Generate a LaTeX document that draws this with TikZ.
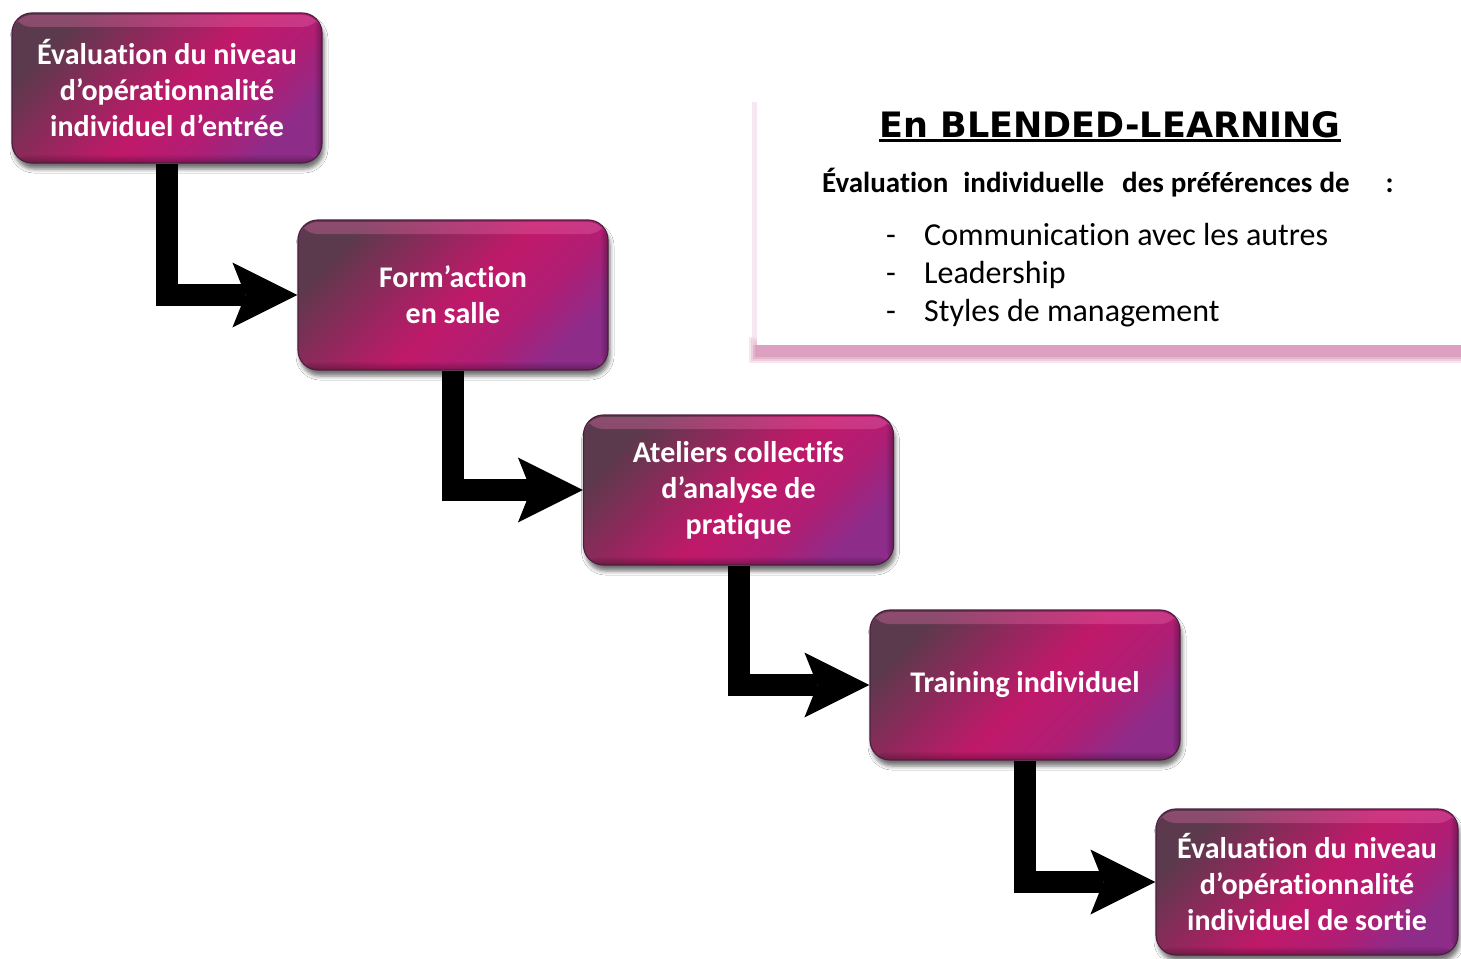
\documentclass[tikz,border=0pt]{standalone}
\usepackage{fontspec}
\setmainfont{Carlito}[Ligatures={NoCommon,NoRequired,NoContextual}]
\newfontfamily\headfont{DejaVu Sans}
\usetikzlibrary{arrows.meta,shadows.blur,fadings}

\definecolor{gA}{HTML}{5A3A4C}
\definecolor{gM}{HTML}{C0196A}
\definecolor{gC}{HTML}{B01E74}
\definecolor{gD}{HTML}{8E2C8A}
\definecolor{rim}{HTML}{4E1E40}
\definecolor{gloss}{HTML}{F070B0}
\definecolor{pinkshadow}{HTML}{DDA0C0}

% diagonal colour run of the step boxes
\pgfdeclarehorizontalshading{boxgrad}{100bp}{color(0bp)=(gA); color(25bp)=(gA); color(38bp)=(gA!50!gM); color(52bp)=(gM); color(64bp)=(gC); color(75bp)=(gD); color(100bp)=(gD)}

\tikzset{
  stepbox/.style={rounded corners=20pt, minimum width=310pt, minimum height=150pt,
    shading=boxgrad, shading angle=-45, draw=rim, line width=1.2pt,
    text=white, font=\bfseries\fontsize{30}{36}\selectfont, align=center, inner sep=0pt,
    blur shadow={shadow xshift=2pt, shadow yshift=-6pt, shadow blur radius=4pt, shadow opacity=55},
    path picture={
      \fill[gloss, opacity=0.35, path fading=south]
        ([yshift=-2pt]path picture bounding box.north west) rectangle ([yshift=-14pt]path picture bounding box.north east);
      \fill[black, opacity=0.3, path fading=north]
        (path picture bounding box.south west) rectangle ([yshift=9pt]path picture bounding box.south east);
      \fill[black, opacity=0.3, path fading=west]
        ([xshift=-8pt]path picture bounding box.north east) rectangle (path picture bounding box.south east);
    }},
  conn/.style={line width=22pt, line join=miter,
    -{Stealth[length=65pt, width=65pt, inset=13pt, line width=0pt]}},
  listtext/.style={anchor=base west, inner sep=0pt, font=\fontsize{32}{36}\selectfont},
}

\begin{document}
\begin{tikzpicture}[x=1pt, y=1pt]
  \useasboundingbox (0,0) rectangle (1461,-958);
  \fill[white] (0,0) rectangle (1461,-958);

  % side panel with its pink drop shadow
  \foreach \d/\o in {6/0.25, 4/0.35, 2/0.5, 0/1}{
    \fill[pinkshadow, opacity=\o] (755-\d,-343+\d) rectangle (1461,-357-\d);
  }
  \fill[pinkshadow!40, opacity=0.6] (752,-102) rectangle (757,-345);
  \node[fill=white, minimum width=705pt, minimum height=245pt, inner sep=0pt] (panel) at (1109,-222.5) {};

  \node[anchor=base, inner sep=0pt, font=\headfont\bfseries\fontsize{35}{40}\selectfont] (title) at (1110,-137) {En BLENDED-LEARNING};
  \draw[line width=2.5pt] ([yshift=-3.5pt]title.base west) -- ([yshift=-3.5pt]title.base east);

  \node[anchor=base west, inner sep=0pt, font=\bfseries\fontsize{29}{36}\selectfont] (sub) at (822,-192)
    {Évaluation\hspace{15pt}individuelle\hspace{18pt}des\hspace{7pt}préférences\hspace{7pt}de\hspace{36pt}:};

  \node[listtext] (d1) at (886,-245) {-};
  \node[listtext] (d2) at (886,-283) {-};
  \node[listtext] (d3) at (886,-321) {-};
  \node[listtext] (i1) at (924,-245) {Communication avec les autres};
  \node[listtext] (i2) at (924,-283) {Leadership};
  \node[listtext] (i3) at (924,-321) {Styles de management};

  % the five steps
  \node[stepbox] (b1) at (167,-88)    {Évaluation du niveau\\d’opérationnalité\\individuel d’entrée};
  \node[stepbox] (b2) at (453,-295)   {Form’action\\en salle};
  \node[stepbox] (b3) at (738.5,-490) {Ateliers collectifs\\d’analyse de\\pratique};
  \node[stepbox] (b4) at (1025,-685)  {Training individuel};
  \node[stepbox, minimum width=302pt, minimum height=146pt] (b5) at (1307,-882) {Évaluation du niveau\\d’opérationnalité\\individuel de sortie};

  % elbow connectors
  \draw[conn] (b1.south) |- (b2.west);
  \draw[conn] (b2.south) |- (b3.west);
  \draw[conn] (b3.south) |- (b4.west);
  \draw[conn] (b4.south) |- (b5.west);
\end{tikzpicture}
\end{document}
